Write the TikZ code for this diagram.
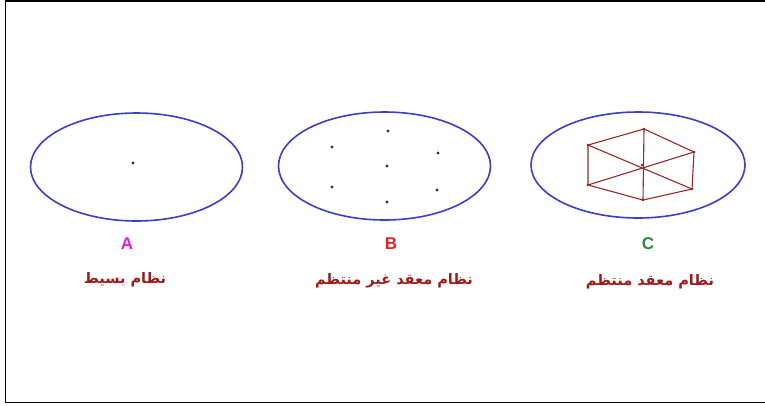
\documentclass[tikz,border=0pt]{standalone}
\usepackage{fontspec}
\setmainfont{Liberation Sans}
\TeXXeTstate=1
\newfontfamily\arabicfont[Script=Arabic]{DejaVu Sans}
\definecolor{ellblue}{RGB}{60,60,205}
\definecolor{hexred}{RGB}{150,40,40}
\definecolor{txtred}{RGB}{160,25,25}
\definecolor{lblA}{RGB}{220,30,220}
\definecolor{lblB}{RGB}{225,35,35}
\definecolor{lblC}{RGB}{40,140,60}
\begin{document}
\begin{tikzpicture}[x=1pt,y=-1pt,
  ell/.style={draw=ellblue,line width=1.6pt},
  pt/.style={circle,fill=black!80,inner sep=0pt,minimum size=3.2pt},
  vx/.style={circle,fill=hexred!70!black,inner sep=0pt,minimum size=2.8pt},
  hx/.style={draw=hexred,line width=1.1pt},
  letter/.style={font=\bfseries\fontsize{17}{17}\selectfont},
  arab/.style={text=txtred,font=\arabicfont\bfseries\fontsize{14.5}{16}\selectfont}]
\useasboundingbox (0,0) rectangle (765,405);
% frame
\draw[line width=1.6pt,black] (765,1) -- (5.5,1) -- (5.5,402.5) -- (765,402.5);
% ellipses
\draw[ell] (136.5,167) ellipse [x radius=106, y radius=54];
\draw[ell] (384.5,166) ellipse [x radius=106, y radius=54];
\draw[ell] (638,165) ellipse [x radius=107, y radius=53];
% A
\node[pt] (a0) at (133,163) {};
% B
\node[pt] (b1) at (388,131) {};
\node[pt] (b2) at (332,147) {};
\node[pt] (b3) at (438,153) {};
\node[pt] (b4) at (387,166) {};
\node[pt] (b5) at (332,187) {};
\node[pt] (b6) at (437,190) {};
\node[pt] (b7) at (387,202) {};
% C hexagon
\node[vx] (ct) at (644,129) {};
\node[vx] (cul) at (588,145) {};
\node[vx] (cur) at (694,152) {};
\node[vx] (cc) at (642,165) {};
\node[vx] (cll) at (588,185) {};
\node[vx] (clr) at (692,189) {};
\node[vx] (cb) at (643,200) {};
\draw[hx] (ct.center) -- (cul.center) -- (cll.center) -- (cb.center) -- (clr.center) -- (cur.center) -- (ct.center);
\draw[hx] (ct.center) -- (cb.center);
\draw[hx] (cul.center) -- (clr.center);
\draw[hx] (cur.center) -- (cll.center);
% labels
\node[letter,text=lblA] (la) at (127,244) {A};
\node[letter,text=lblB] (lb) at (391,244) {B};
\node[letter,text=lblC] (lc) at (648,244) {C};
\node[arab] (ta) at (125,280) {\beginR نظام بسيط\endR};
\node[arab] (tb) at (394,281) {\beginR نظام معقد  غير منتظم\endR};
\node[arab] (tc) at (650,282) {\beginR نظام معقد منتظم\endR};
\end{tikzpicture}
\end{document}
